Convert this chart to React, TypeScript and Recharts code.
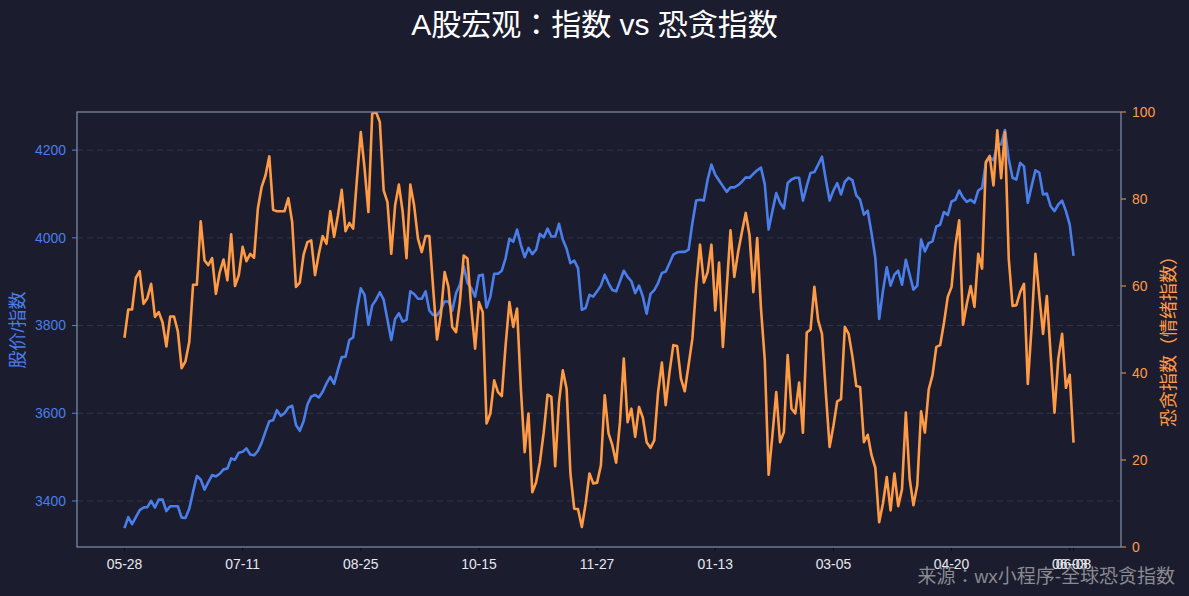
import React from 'react';
import { LineChart, Line, XAxis, YAxis, CartesianGrid } from 'recharts';

// x tick positions (trading-day index) and their labels
const tickIndex = [0, 31, 62, 93, 124, 155, 186, 217, 248, 249];
const tickLabels = ['05-28', '07-11', '08-25', '10-15', '11-27', '01-13', '03-05', '04-20', '06-03', '06-08'];

// 股价/指数
const indexValues = [
  3338, 3363, 3347, 3363, 3379, 3385, 3386, 3400, 3385, 3403,
  3403, 3377, 3388, 3388, 3388, 3362, 3361, 3382, 3421, 3457,
  3449, 3426, 3443, 3459, 3456, 3462, 3472, 3474, 3497, 3494,
  3510, 3512, 3520, 3506, 3504, 3514, 3533, 3558, 3582, 3584,
  3607, 3594, 3600, 3613, 3617, 3573, 3560, 3582, 3620, 3638,
  3642, 3636, 3649, 3668, 3683, 3667, 3699, 3728, 3729, 3767,
  3773, 3836, 3885, 3870, 3802, 3846, 3859, 3876, 3859, 3813,
  3767, 3815, 3828, 3809, 3813, 3878, 3872, 3861, 3861, 3878,
  3834, 3824, 3823, 3836, 3855, 3855, 3834, 3874, 3893, 3935,
  3897, 3885, 3866, 3914, 3916, 3841, 3866, 3918, 3918, 3925,
  3954, 3998, 3991, 4019, 3984, 3956, 3977, 3963, 3973, 4009,
  4001, 4021, 4003, 4003, 4032, 3996, 3975, 3942, 3948, 3931,
  3836, 3840, 3870, 3866, 3878, 3891, 3916, 3897, 3881, 3878,
  3901, 3925, 3911, 3901, 3874, 3891, 3866, 3827, 3872, 3881,
  3897, 3920, 3923, 3942, 3962, 3967, 3968, 3968, 3973, 4034,
  4085, 4087, 4085, 4133, 4167, 4144, 4131, 4118, 4105, 4115,
  4115, 4120, 4128, 4138, 4137, 4146, 4154, 4160, 4122, 4019,
  4061, 4102, 4080, 4067, 4125, 4133, 4137, 4137, 4085, 4118,
  4148, 4150, 4167, 4185, 4133, 4085, 4108, 4125, 4099, 4128,
  4137, 4131, 4097, 4087, 4053, 4062, 4011, 3954, 3815, 3879,
  3933, 3891, 3916, 3925, 3893, 3950, 3916, 3882, 3891, 3996,
  3969, 3988, 3992, 4026, 4030, 4059, 4052, 4083, 4087, 4108,
  4092, 4082, 4087, 4080, 4108, 4114, 4171, 4184, 4177, 4213,
  4213, 4246, 4179, 4137, 4133, 4171, 4163, 4080, 4118, 4154,
  4149, 4099, 4101, 4072, 4061, 4076, 4085, 4061, 4030, 3959,
];

// 恐贪指数（情绪指数）
const fearGreedValues = [
  48.1, 54.6, 54.6, 61.9, 63.4, 55.9, 57.2, 60.5, 52.9, 54.0,
  51.6, 46.1, 53.0, 53.0, 49.6, 41.1, 42.7, 47.1, 60.3, 60.3,
  74.9, 65.9, 64.8, 66.4, 58.2, 63.2, 66.1, 61.3, 71.9, 60.0,
  62.5, 69.0, 65.7, 67.4, 66.5, 77.8, 82.8, 85.4, 89.8, 77.5,
  77.2, 77.2, 77.2, 80.2, 74.7, 59.8, 60.8, 67.2, 70.1, 70.5,
  62.5, 67.4, 71.5, 69.7, 77.2, 71.3, 76.2, 82.1, 72.6, 74.5,
  73.2, 84.7, 95.4, 87.0, 77.0, 99.6, 100, 97.7, 82.0, 79.3,
  67.4, 78.5, 83.3, 77.0, 66.4, 83.3, 78.5, 70.9, 67.8, 71.5,
  71.5, 59.4, 47.7, 53.3, 63.2, 59.8, 50.6, 49.4, 56.3, 67.0,
  66.3, 54.8, 45.6, 56.3, 54.0, 28.4, 30.7, 38.3, 35.6, 34.7,
  46.4, 56.3, 50.6, 54.8, 36.4, 21.8, 30.7, 12.6, 14.9, 19.5,
  26.4, 35.0, 34.5, 18.6, 33.3, 40.6, 36.4, 16.9, 8.8, 8.7,
  4.6, 10.0, 16.9, 14.6, 14.8, 18.8, 34.9, 26.1, 23.4, 19.4,
  28.7, 43.3, 28.7, 31.8, 25.3, 32.2, 29.7, 24.1, 22.8, 24.5,
  35.6, 42.4, 32.6, 40.2, 46.4, 46.2, 38.7, 35.8, 41.8, 47.9,
  60.2, 69.5, 60.8, 63.2, 69.5, 54.4, 65.4, 46.0, 59.4, 72.8,
  62.1, 67.8, 72.4, 76.8, 71.6, 58.6, 71.0, 54.8, 42.9, 16.6,
  25.7, 35.6, 24.1, 26.4, 44.1, 31.8, 30.7, 37.8, 26.3, 49.3,
  50.0, 59.8, 52.1, 49.0, 35.6, 23.0, 27.8, 33.5, 34.0, 50.6,
  49.0, 43.7, 37.0, 36.8, 24.1, 25.8, 21.1, 18.2, 5.7, 10.0,
  16.1, 8.4, 16.9, 9.4, 13.3, 30.9, 15.7, 9.6, 14.2, 31.2,
  26.3, 36.2, 39.5, 46.0, 46.4, 51.5, 57.5, 59.8, 69.3, 75.1,
  51.1, 55.9, 60.0, 55.2, 67.4, 64.0, 88.5, 89.9, 83.1, 95.8,
  84.8, 95.4, 66.3, 55.4, 55.6, 58.6, 60.5, 37.5, 50.6, 67.4,
  57.9, 49.0, 57.7, 44.1, 30.9, 43.3, 49.0, 36.6, 39.6, 24.0,
];

const leftTicks = [3400, 3600, 3800, 4000, 4200];
const rightTicks = [0, 20, 40, 60, 80, 100];

const BG = '#1b1c2e';
const BLUE = '#4a7eea';
const ORANGE = '#ff9a45';
const FRAME = '#8390ad';
const GRID = '#30344c';
const FONT = '"Liberation Sans", "Noto Sans CJK JP", sans-serif';
const CJK = '"Liberation Sans", "Noto Sans CJK JP", sans-serif';

const data = indexValues.map((v, i) => ({ i, idx: v, fg: fearGreedValues[i] }));

const W = 1189;
const H = 596;
const PL = 77;
const PR = 1121;
const PT = 112;
const PB = 547;

const fmtX = (v: number) => {
  const k = tickIndex.indexOf(v);
  return k >= 0 ? tickLabels[k] : '';
};

export default function App() {
  return (
    <div
      style={{
        position: 'absolute',
        left: 0,
        top: 0,
        width: W,
        height: H,
        background: BG,
        overflow: 'hidden',
        fontFamily: FONT,
      }}
    >
      <LineChart width={W} height={H} data={data} margin={{ top: PT, right: 0, bottom: 0, left: 0 }}>
        <CartesianGrid
          yAxisId="left"
          vertical={false}
          stroke={GRID}
          strokeDasharray="6 4"
          horizontalValues={leftTicks}
        />
        <XAxis
          dataKey="i"
          type="number"
          domain={[-12.45, 261.45]}
          ticks={tickIndex}
          interval={0}
          tickFormatter={fmtX}
          height={H - PB}
          axisLine={false}
          tickLine={{ stroke: '#0c0c14' }}
          tickSize={4}
          tickMargin={8}
          tick={{ fill: '#e8e8ee', fontSize: 13.9, fontFamily: FONT }}
          allowDataOverflow
        />
        <YAxis
          yAxisId="left"
          orientation="left"
          width={PL}
          domain={[3295, 4287]}
          ticks={leftTicks}
          interval={0}
          axisLine={false}
          tickLine={{ stroke: BLUE }}
          tickSize={5}
          tickMargin={6}
          tick={{ fill: BLUE, fontSize: 13.9, fontFamily: FONT }}
          allowDataOverflow
        />
        <YAxis
          yAxisId="right"
          orientation="right"
          width={W - PR}
          domain={[0, 100]}
          ticks={rightTicks}
          interval={0}
          axisLine={false}
          tickLine={{ stroke: ORANGE }}
          tickSize={5}
          tickMargin={6}
          tick={{ fill: ORANGE, fontSize: 13.9, fontFamily: FONT, textAnchor: 'start' }}
          allowDataOverflow
        />
        <Line
          yAxisId="left"
          dataKey="idx"
          type="linear"
          stroke={BLUE}
          strokeWidth={2.6}
          dot={false}
          activeDot={false}
          isAnimationActive={false}
          strokeLinejoin="round"
        />
        <Line
          yAxisId="right"
          dataKey="fg"
          type="linear"
          stroke={ORANGE}
          strokeWidth={2.6}
          dot={false}
          activeDot={false}
          isAnimationActive={false}
          strokeLinejoin="round"
        />
      </LineChart>

      <svg
        width={W}
        height={H}
        style={{ position: 'absolute', left: 0, top: 0, pointerEvents: 'none' }}
      >
        <rect x={PL} y={PT} width={PR - PL} height={PB - PT} fill="none" stroke={FRAME} strokeWidth={1.2} />
      </svg>

      <div
        style={{
          position: 'absolute',
          left: 0,
          top: 6,
          width: W,
          textAlign: 'center',
          color: '#ffffff',
          fontSize: 30,
          lineHeight: '38px',
          fontFamily: CJK,
        }}
      >
        A股宏观：指数 vs 恐贪指数
      </div>

      <div
        style={{
          position: 'absolute',
          left: 18,
          top: 330,
          transform: 'translate(-50%, -50%) rotate(-90deg)',
          color: BLUE,
          fontSize: 18,
          whiteSpace: 'nowrap',
          fontFamily: CJK,
          lineHeight: '20px',
        }}
      >
        股价/指数
      </div>

      <div
        style={{
          position: 'absolute',
          left: 1169,
          top: 337,
          transform: 'translate(-50%, -50%) rotate(-90deg)',
          color: ORANGE,
          fontSize: 18,
          whiteSpace: 'nowrap',
          fontFamily: CJK,
          lineHeight: '20px',
        }}
      >
        恐贪指数（情绪指数）
      </div>

      <div
        style={{
          position: 'absolute',
          right: 14,
          top: 565,
          color: '#8a8a92',
          fontSize: 19,
          whiteSpace: 'nowrap',
          fontFamily: CJK,
          lineHeight: '24px',
        }}
      >
        来源：wx小程序-全球恐贪指数
      </div>
    </div>
  );
}
